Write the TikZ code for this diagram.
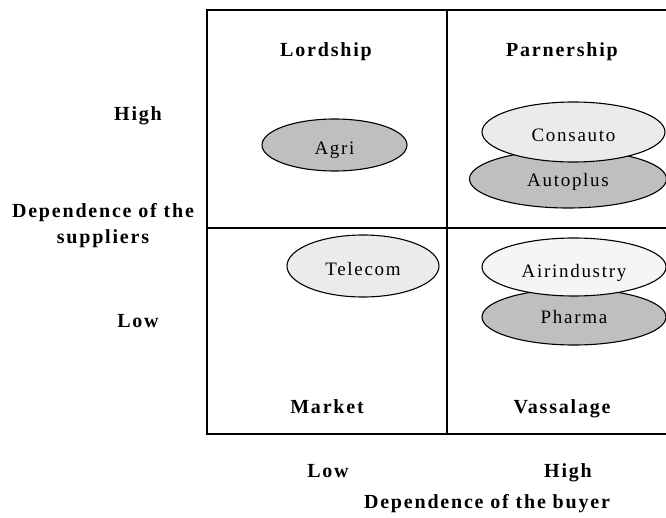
\documentclass[tikz,border=0pt]{standalone}
\usepackage{fontspec}
\setmainfont{Liberation Serif}
\newfontfamily\spaced[LetterSpace=9]{Liberation Serif}
\usetikzlibrary{shapes.geometric}

\begin{document}
\begin{tikzpicture}[x=1pt, y=-1pt, line cap=round,
    heading/.style={anchor=base, font=\spaced\bfseries\fontsize{20}{19}\selectfont},
    firm/.style={ellipse, draw, line width=1.1pt, inner sep=0pt, text height=19pt, text depth=0pt,
        font=\spaced\fontsize{19}{20}\selectfont}]

    \useasboundingbox (0,0) rectangle (666,518);

    % the matrix
    \draw [line width=1.6pt] (207,10) rectangle (690,434);
    \draw [line width=1.6pt] (447,10) -- (447,434);
    \draw [line width=1.6pt] (207,228) -- (690,228);

    \node [heading] (lordship) at (326,57) {Lordship};
    \node [heading] (parnership) at (562,57) {Parnership};
    \node [heading] (market) at (327,413) {Market};
    \node [heading] (vassalage) at (562,413) {Vassalage};

    % the firms
    \node [firm, fill=gray!50, minimum width=145, minimum height=52] (agri) at (334.5,145) {Agri};
    \node [firm, fill=gray!50, minimum width=197, minimum height=58, text height=15pt] (autoplus) at (568,179) {Autoplus};
    \node [firm, fill=black!8, minimum width=183, minimum height=60] (consauto) at (573.5,132) {Consauto};
    \node [firm, fill=black!8, minimum width=152, minimum height=62] (telecom) at (363,266) {Telecom};
    \node [firm, fill=gray!50, minimum width=184, minimum height=56, text height=13pt] (pharma) at (574,317) {Pharma};
    \node [firm, fill=black!4, minimum width=184, minimum height=58, text height=21pt] (airindustry) at (574,267) {Airindustry};

    % axes
    \node [heading] (high1) at (138,121) {High};
    \node [heading] (dep1) at (103,218) {Dependence of the};
    \node [heading] (suppliers) at (103,244) {suppliers};
    \node [heading] (low1) at (138,327) {Low};
    \node [heading] (low2) at (328,477) {Low};
    \node [heading] (high2) at (568,477) {High};
    \node [heading] (buyer) at (487,508) {Dependence of the buyer};

\end{tikzpicture}
\end{document}
